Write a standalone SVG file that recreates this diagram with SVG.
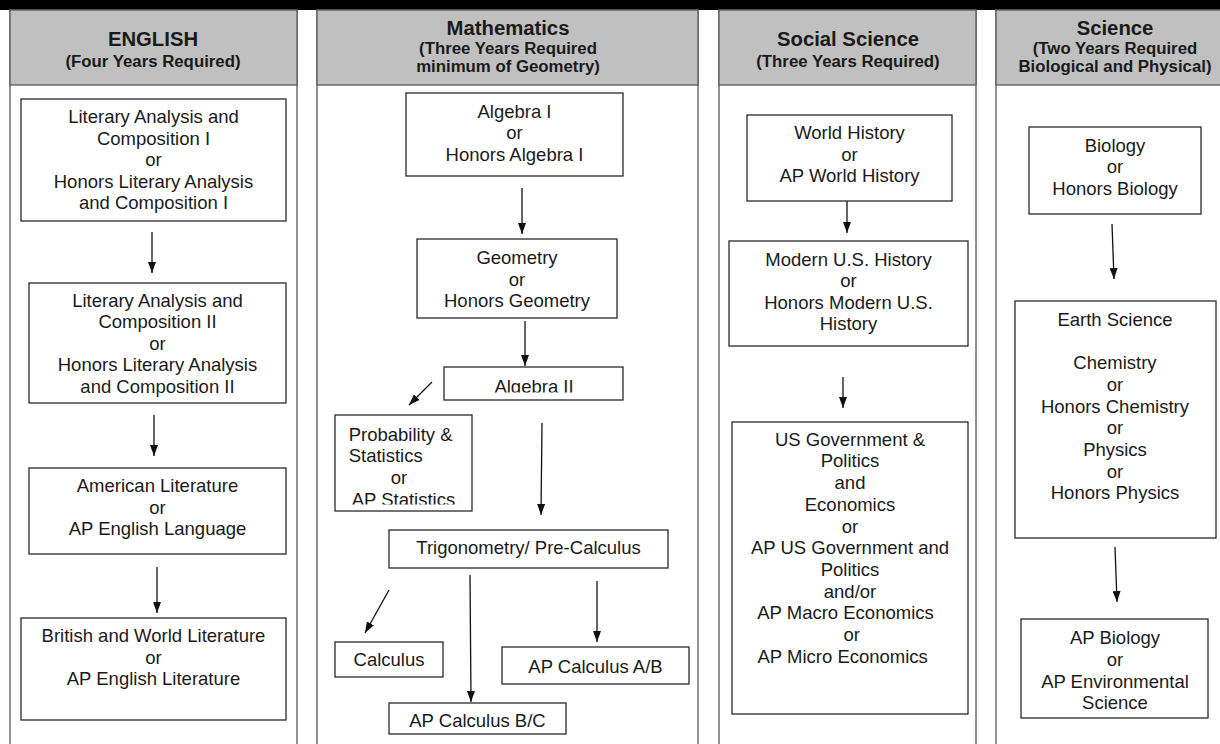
<svg xmlns="http://www.w3.org/2000/svg" width="1220" height="744" viewBox="0 0 1220 744">
<style>
.col{fill:#fff;stroke:#5a5a5a;stroke-width:1.3}
.hdr{fill:#c0c0c0;stroke:#5a5a5a;stroke-width:1.3}
.ht{font-family:"Liberation Sans",Arial,sans-serif;font-weight:bold;font-size:20.3px;fill:#1a1a1a;text-anchor:middle}
.hs{font-family:"Liberation Sans",Arial,sans-serif;font-weight:bold;font-size:16.8px;fill:#1a1a1a;text-anchor:middle}
.box{fill:#fff;stroke:#2a2a2a;stroke-width:1.3}
.t{font-family:"Liberation Sans",Arial,sans-serif;font-size:18.5px;fill:#1a1a1a;text-anchor:middle}
.ts{font-family:"Liberation Sans",Arial,sans-serif;font-size:18.5px;fill:#1a1a1a;text-anchor:start}
.c{stroke:#111;stroke-width:1.3;fill:none;marker-end:url(#ah)}
</style>
<defs>
<marker id="ah" markerUnits="userSpaceOnUse" markerWidth="11" markerHeight="8" refX="11" refY="4" orient="auto">
<path d="M0,0 L11,4 L0,8 Z" fill="#111"/>
</marker>
<clipPath id="clipAlg2"><rect x="444" y="367" width="179" height="25.5"/></clipPath>
<clipPath id="clipProb"><rect x="335" y="415" width="137" height="89.5"/></clipPath>
</defs>
<rect x="0" y="0" width="1220" height="744" fill="#fff"/>
<rect x="0" y="0" width="1220" height="10" fill="#000"/>

<g id="columns">
<rect class="col" x="10" y="10" width="287" height="740"/>
<rect class="hdr" x="10" y="10" width="287" height="75"/>
<rect class="col" x="317" y="10" width="381" height="740"/>
<rect class="hdr" x="317" y="10" width="381" height="75"/>
<rect class="col" x="719" y="10" width="257" height="740"/>
<rect class="hdr" x="719" y="10" width="257" height="75"/>
<rect class="col" x="996" y="10" width="240" height="740"/>
<rect class="hdr" x="996" y="10" width="240" height="75"/>
</g>

<g id="headers">
<text class="ht" x="153" y="45.5">ENGLISH</text>
<text class="hs" x="153" y="67">(Four Years Required)</text>
<text class="ht" x="508" y="35">Mathematics</text>
<text class="hs" x="508" y="54">(Three Years Required</text>
<text class="hs" x="508" y="72">minimum of Geometry)</text>
<text class="ht" x="848" y="45.5">Social Science</text>
<text class="hs" x="848" y="67">(Three Years Required)</text>
<text class="ht" x="1115" y="35">Science</text>
<text class="hs" x="1115" y="54">(Two Years Required</text>
<text class="hs" x="1115" y="72">Biological and Physical)</text>
</g>

<g id="connectors">
<line class="c" x1="152" y1="232" x2="152" y2="273"/>
<line class="c" x1="154" y1="415" x2="154" y2="456"/>
<line class="c" x1="157" y1="567" x2="157" y2="613"/>
<line class="c" x1="522" y1="188" x2="522" y2="234"/>
<line class="c" x1="525" y1="321" x2="525" y2="366"/>
<line class="c" x1="432" y1="382" x2="409" y2="405"/>
<line class="c" x1="542" y1="423" x2="541" y2="515"/>
<line class="c" x1="389" y1="590" x2="365" y2="633"/>
<line class="c" x1="470" y1="575" x2="471" y2="702"/>
<line class="c" x1="597" y1="581" x2="597" y2="642"/>
<line class="c" x1="847" y1="201" x2="847" y2="233"/>
<line class="c" x1="843" y1="377" x2="843" y2="408"/>
<line class="c" x1="1112" y1="224" x2="1114" y2="279"/>
<line class="c" x1="1115" y1="547" x2="1117" y2="602"/>
</g>

<g id="eng1">
<rect class="box" x="21" y="99" width="265" height="122"/>
<text class="t" x="153.5" y="123">Literary Analysis and</text>
<text class="t" x="153.5" y="144.5">Composition I</text>
<text class="t" x="153.5" y="166">or</text>
<text class="t" x="153.5" y="187.5">Honors Literary Analysis</text>
<text class="t" x="153.5" y="209">and Composition I</text>
</g>
<g id="eng2">
<rect class="box" x="29" y="283" width="257" height="120"/>
<text class="t" x="157.5" y="306.5">Literary Analysis and</text>
<text class="t" x="157.5" y="328">Composition II</text>
<text class="t" x="157.5" y="349.5">or</text>
<text class="t" x="157.5" y="371">Honors Literary Analysis</text>
<text class="t" x="157.5" y="392.5">and Composition II</text>
</g>
<g id="eng3">
<rect class="box" x="29" y="468" width="257" height="86"/>
<text class="t" x="157.5" y="492">American Literature</text>
<text class="t" x="157.5" y="513.5">or</text>
<text class="t" x="157.5" y="535">AP English Language</text>
</g>
<g id="eng4">
<rect class="box" x="21" y="618" width="265" height="102"/>
<text class="t" x="153.5" y="642">British and World Literature</text>
<text class="t" x="153.5" y="663.5">or</text>
<text class="t" x="153.5" y="685">AP English Literature</text>
</g>

<g id="alg1">
<rect class="box" x="406" y="93" width="217" height="83"/>
<text class="t" x="514.5" y="117.5">Algebra I</text>
<text class="t" x="514.5" y="139">or</text>
<text class="t" x="514.5" y="160.5">Honors Algebra I</text>
</g>
<g id="geom">
<rect class="box" x="417" y="239" width="200" height="79"/>
<text class="t" x="517" y="264.3">Geometry</text>
<text class="t" x="517" y="285.8">or</text>
<text class="t" x="517" y="307.3">Honors Geometry</text>
</g>
<g id="alg2">
<rect class="box" x="444" y="367" width="179" height="33"/>
<text class="t" x="534" y="392.5" clip-path="url(#clipAlg2)">Algebra II</text>
</g>
<g id="prob">
<rect class="box" x="335" y="415" width="137" height="96"/>
<g clip-path="url(#clipProb)">
<text class="ts" x="348.7" y="440.7">Probability &amp;</text>
<text class="ts" x="348.7" y="462.2">Statistics</text>
<text class="ts" x="390.7" y="483.7">or</text>
<text class="ts" x="351.7" y="505.5">AP Statistics</text>
</g>
</g>
<g id="trig">
<rect class="box" x="389" y="530" width="279" height="38"/>
<text class="t" x="528.5" y="554">Trigonometry/ Pre-Calculus</text>
</g>
<g id="calc">
<rect class="box" x="335" y="642" width="108" height="35"/>
<text class="t" x="389" y="665.7">Calculus</text>
</g>
<g id="apab">
<rect class="box" x="502" y="647" width="187" height="37"/>
<text class="t" x="595.5" y="672.7">AP Calculus A/B</text>
</g>
<g id="apbc">
<rect class="box" x="389" y="703" width="177" height="31"/>
<text class="t" x="477.5" y="726.7">AP Calculus B/C</text>
</g>

<g id="world">
<rect class="box" x="747" y="115" width="205" height="86"/>
<text class="t" x="849.5" y="139.3">World History</text>
<text class="t" x="849.5" y="160.8">or</text>
<text class="t" x="849.5" y="182.3">AP World History</text>
</g>
<g id="modus">
<rect class="box" x="729" y="241" width="239" height="105"/>
<text class="t" x="848.5" y="265.7">Modern U.S. History</text>
<text class="t" x="848.5" y="287.2">or</text>
<text class="t" x="848.5" y="308.7">Honors Modern U.S.</text>
<text class="t" x="848.5" y="330.2">History</text>
</g>
<g id="usgov">
<rect class="box" x="732" y="422" width="236" height="292"/>
<text class="t" x="850" y="445.7">US Government &amp;</text>
<text class="t" x="850" y="467.4">Politics</text>
<text class="t" x="850" y="489.1">and</text>
<text class="t" x="850" y="510.8">Economics</text>
<text class="t" x="850" y="532.5">or</text>
<text class="t" x="850" y="554.2">AP US Government and</text>
<text class="t" x="850" y="575.9">Politics</text>
<text class="t" x="850" y="597.6">and/or</text>
<text class="t" x="845.5" y="619.3">AP Macro Economics</text>
<text class="t" x="851.7" y="641">or</text>
<text class="t" x="842.7" y="662.7">AP Micro Economics</text>
</g>

<g id="bio">
<rect class="box" x="1029" y="127" width="172" height="87"/>
<text class="t" x="1115" y="151.7">Biology</text>
<text class="t" x="1115" y="173.2">or</text>
<text class="t" x="1115" y="194.7">Honors Biology</text>
</g>
<g id="earth">
<rect class="box" x="1015" y="301" width="201" height="237"/>
<text class="t" x="1115" y="325.7">Earth Science</text>
<text class="t" x="1115" y="369.1">Chemistry</text>
<text class="t" x="1115" y="390.8">or</text>
<text class="t" x="1115" y="412.5">Honors Chemistry</text>
<text class="t" x="1115" y="434.2">or</text>
<text class="t" x="1115" y="455.9">Physics</text>
<text class="t" x="1115" y="477.6">or</text>
<text class="t" x="1115" y="499.3">Honors Physics</text>
</g>
<g id="apbio">
<rect class="box" x="1021" y="619" width="187" height="99"/>
<text class="t" x="1115" y="644.3">AP Biology</text>
<text class="t" x="1115" y="666">or</text>
<text class="t" x="1115" y="687.7">AP Environmental</text>
<text class="t" x="1115" y="709.4">Science</text>
</g>
</svg>
